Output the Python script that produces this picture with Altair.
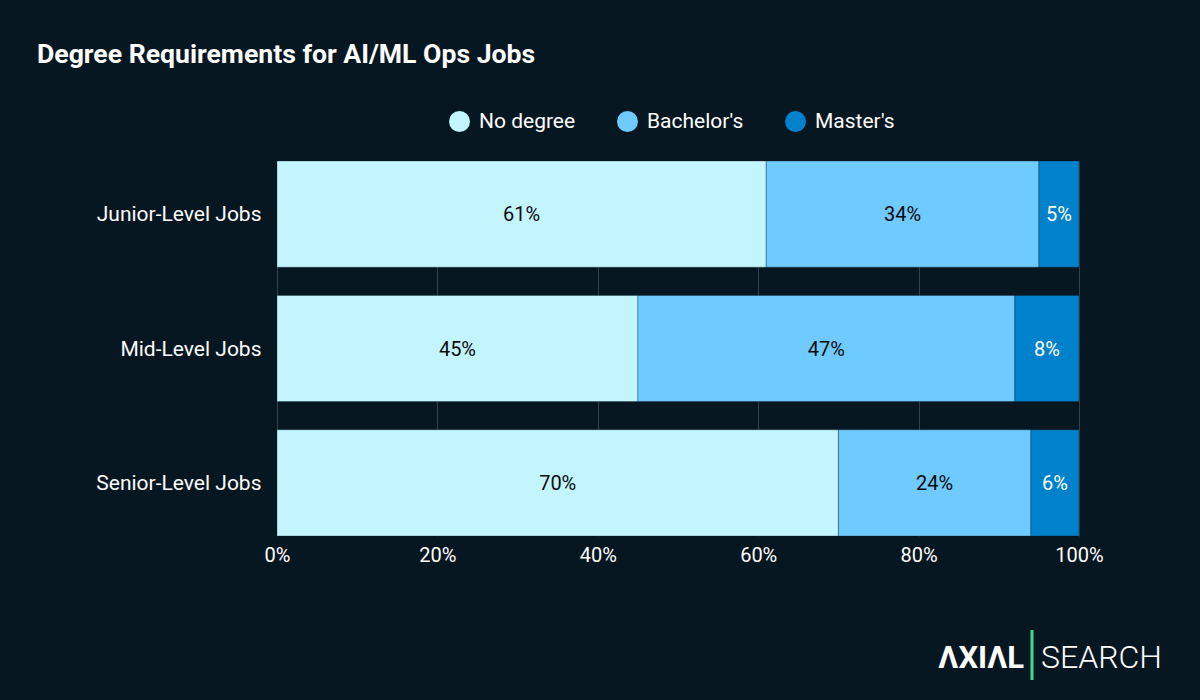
import altair as alt
import pandas as pd

levels = ["Junior-Level Jobs", "Mid-Level Jobs", "Senior-Level Jobs"]
degrees = ["No degree", "Bachelor's", "Master's"]
no_degree = [61, 45, 70]
bachelors = [34, 47, 24]
masters = [5, 8, 6]
colors = ["#C3F5FF", "#6FCAFF", "#0081CB"]
text_colors = ["#0b0b0b", "#0b0b0b", "#ffffff"]

rows = []
for i, lv in enumerate(levels):
    for j, (deg, vals) in enumerate(zip(degrees, [no_degree, bachelors, masters])):
        rows.append({"level": lv, "degree": deg, "order": j, "value": vals[i] / 100.0,
                     "label": f"{vals[i]}%"})
df = pd.DataFrame(rows)

BG = "#071722"

base = alt.Chart(df)

bars = base.mark_bar(stroke=BG, strokeWidth=0.6, strokeOpacity=0.5).encode(
    y=alt.Y("level:N", sort=levels, title=None,
            scale=alt.Scale(paddingInner=0.21, paddingOuter=0)),
    x=alt.X("value:Q", stack="zero", title=None,
            scale=alt.Scale(domain=[0, 1]),
            axis=alt.Axis(format="%", values=[0, 0.2, 0.4, 0.6, 0.8, 1.0], labelFlush=False)),
    color=alt.Color("degree:N", sort=degrees,
                    scale=alt.Scale(domain=degrees, range=colors),
                    legend=alt.Legend(title=None, orient="none", direction="horizontal",
                                      legendX=172, legendY=-50, symbolType="circle",
                                      symbolSize=440, symbolStrokeWidth=0,
                                      labelFontSize=21, labelColor="#ffffff",
                                      labelFont="Roboto", columnPadding=41, labelOffset=9,
                                      symbolOpacity=1)),
    order=alt.Order("order:Q"),
)

labels = base.transform_stack(
    stack="value", groupby=["level"], as_=["x0", "x1"],
    sort=[alt.SortField("order", order="ascending")]
).transform_calculate(
    mid="(datum.x0 + datum.x1) / 2"
).mark_text(fontSize=20, font="Roboto", dy=1).encode(
    y=alt.Y("level:N", sort=levels),
    x=alt.X("mid:Q"),
    text="label:N",
    color=alt.Color("degree:N", scale=alt.Scale(domain=degrees, range=text_colors), legend=None),
)

logo_axial = alt.Chart(pd.DataFrame({"t": ["ΛXIΛL"]})).mark_text(
    fontSize=31, font="Roboto", fontWeight="bold", color="#ffffff", align="right", baseline="alphabetic"
).encode(x=alt.value(747), y=alt.value(507), text="t:N")
logo_bar = alt.Chart(pd.DataFrame({"a": [0]})).mark_rule(color="#3ddc97", strokeWidth=3).encode(
    x=alt.value(755), y=alt.value(469), y2=alt.value(519))
logo_search = alt.Chart(pd.DataFrame({"t": ["SEARCH"]})).mark_text(
    fontSize=32, font="Roboto", fontWeight=300, color="#ffffff", align="left", baseline="alphabetic"
).encode(x=alt.value(764), y=alt.value(507), text="t:N")

chart = alt.layer(bars, labels, logo_axial, logo_bar, logo_search).resolve_scale(
    color="independent"
).properties(
    width=802, height=375,
    title=alt.TitleParams("Degree Requirements for AI/ML Ops Jobs", anchor="start", frame="group",
                          dx=-240, dy=-38, fontSize=26.6, font="Roboto", fontWeight="bold",
                          color="#ffffff"),
    autosize=alt.AutoSizeParams(type="none"),
    padding={"left": 277, "top": 161, "right": 121, "bottom": 164},
    background=BG,
).configure_view(stroke=None).configure_axis(
    grid=True, gridColor="#33404a", gridWidth=1, domain=False, ticks=False,
    labelColor="#ffffff", labelFont="Roboto",
).configure_axisY(labelFontSize=21, labelPadding=16, grid=False, labelOffset=1
).configure_axisX(labelFontSize=20, labelPadding=9)

chart.save("out.html", embed_options={"renderer": "svg", "actions": False})
